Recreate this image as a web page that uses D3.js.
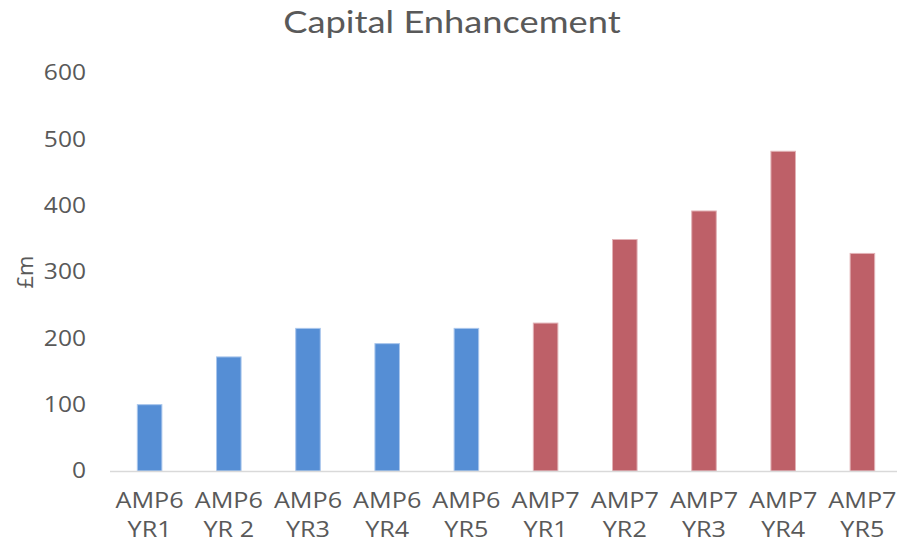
<!DOCTYPE html>
<html>
<head>
<meta charset="utf-8">
<script src="https://cdn.jsdelivr.net/npm/d3@7"></script>
<style>
  html, body { margin: 0; padding: 0; background: #fff; }
  svg { display: block; }
</style>
</head>
<body>
<svg id="chart" width="897" height="542"></svg>
<script>
// Capital enhancement spend (£m) by AMP period and year
const periods = ["AMP6", "AMP6", "AMP6", "AMP6", "AMP6", "AMP7", "AMP7", "AMP7", "AMP7", "AMP7"];
const years = ["YR1", "YR 2", "YR3", "YR4", "YR5", "YR1", "YR2", "YR3", "YR4", "YR5"];
const values = [100, 172, 215, 192, 215, 223, 349, 392, 482, 328];
const yTicks = [0, 100, 200, 300, 400, 500, 600];

const colours = { AMP6: "#558ED5", AMP7: "#BE6068" };
const strokes = { AMP6: "#A9C6EC", AMP7: "#E2B2B6" };

const svg = d3.select("#chart");
const W = 897, H = 542;
const plot = { left: 110, right: 902, top: 73, bottom: 471 };

// stretch a text element horizontally while keeping its glyph height
function widen(factor) {
  return sel => sel.each(function() {
    const len = this.getComputedTextLength();
    d3.select(this)
      .attr("textLength", len * factor)
      .attr("lengthAdjust", "spacingAndGlyphs");
  });
}

const keys = d3.range(values.length);
const x = d3.scaleBand()
  .domain(keys)
  .range([plot.left, plot.right])
  .paddingInner(0.69)
  .paddingOuter(0.345);

const y = d3.scaleLinear()
  .domain([0, 600])
  .range([plot.bottom, plot.top]);

// Title
svg.append("text")
  .attr("x", 452)
  .attr("y", 33)
  .attr("text-anchor", "middle")
  .attr("font-family", "Lato, 'Open Sans', sans-serif")
  .attr("font-size", 31)
  .attr("fill", "#595959")
  .text("Capital Enhancement")
  .call(widen(1.17));

// Y axis labels (no axis line)
const yAxis = d3.axisLeft(y).tickValues(yTicks).tickSize(0).tickPadding(0);
const yg = svg.append("g")
  .attr("transform", "translate(86,0)")
  .call(yAxis);
yg.select(".domain").remove();
yg.selectAll("text")
  .attr("font-family", "'Open Sans', sans-serif")
  .attr("font-size", 21)
  .attr("fill", "#595959")
  .call(widen(1.17));

// Y axis title
svg.append("text")
  .attr("transform", "translate(33,272) rotate(-90)")
  .attr("text-anchor", "middle")
  .attr("font-family", "'Open Sans', sans-serif")
  .attr("font-size", 22)
  .attr("fill", "#595959")
  .text("£m");

// Bars
svg.append("g")
  .selectAll("rect")
  .data(keys)
  .join("rect")
  .attr("x", i => x(i))
  .attr("y", i => y(values[i]))
  .attr("width", x.bandwidth())
  .attr("height", i => y(0) - y(values[i]))
  .attr("fill", i => colours[periods[i]])
  .attr("stroke", i => strokes[periods[i]])
  .attr("stroke-width", 1);

// Baseline
svg.append("line")
  .attr("x1", plot.left)
  .attr("x2", W)
  .attr("y1", y(0) + 0.5)
  .attr("y2", y(0) + 0.5)
  .attr("stroke", "#D9D9D9")
  .attr("stroke-width", 1.5);

// Category labels on two lines
const xAxis = d3.axisBottom(x).tickSize(0).tickFormat(() => "");
const xg = svg.append("g")
  .attr("transform", `translate(0,${plot.bottom})`)
  .call(xAxis);
xg.select(".domain").remove();
xg.selectAll(".tick text").remove();
xg.selectAll(".tick").each(function(i) {
  const g = d3.select(this);
  [[periods[i], 37], [years[i], 66]].forEach(([label, dy]) => {
    g.append("text")
      .attr("x", 0)
      .attr("y", dy)
      .attr("text-anchor", "middle")
      .attr("font-family", "'Open Sans', sans-serif")
      .attr("font-size", 21)
      .attr("fill", "#595959")
      .text(label)
      .call(widen(1.2));
  });
});
</script>
</body>
</html>
